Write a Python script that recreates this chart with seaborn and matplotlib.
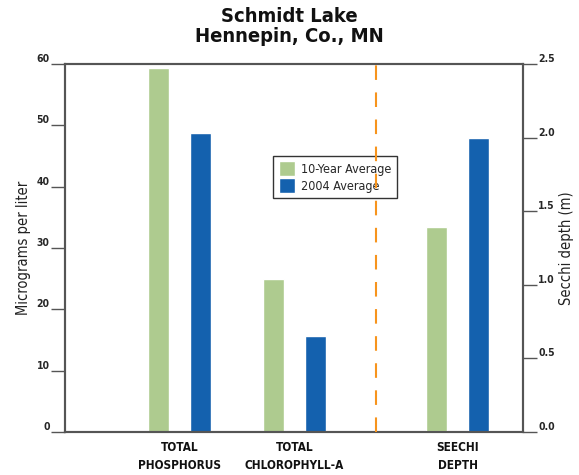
import pandas as pd
import numpy as np
import matplotlib
matplotlib.use("Agg")
import matplotlib.pyplot as plt
import seaborn as sns

# values
categories = ["TOTAL\nPHOSPHORUS", "TOTAL\nCHLOROPHYLL-A", "SEECHI\nDEPTH"]
series = ["10-Year Average", "2004 Average"]
ten_year = [59.3, 24.9, 1.39]      # ug/L, ug/L, m
year_2004 = [48.7, 15.7, 2.00]
left_ticks = [0, 10, 20, 30, 40, 50, 60]
right_ticks = [0.0, 0.5, 1.0, 1.5, 2.0, 2.5]

# layout (category centres on a numeric axis, secchi pushed right of the divider)
xpos = [0.0, 1.0, 2.42]
divider_x = 1.71

green = "#aecb8f"
blue = "#1461ae"
grey = "#555555"

sns.set_style("white")
plt.rcParams["font.family"] = ["DejaVu Sans"]
plt.rcParams["font.stretch"] = "condensed"

rows = []
for i, cat in enumerate(categories):
    rows.append({"pos": xpos[i], "cat": cat, "series": series[0], "value": ten_year[i]})
    rows.append({"pos": xpos[i], "cat": cat, "series": series[1], "value": year_2004[i]})
df = pd.DataFrame(rows)
left_df = df[df["cat"] != categories[2]]
right_df = df[df["cat"] == categories[2]]

fig = plt.figure(figsize=(5.79, 4.75), dpi=100)
ax = fig.add_axes([65 / 579, 43 / 475, 458 / 579, 368 / 475])
ax2 = ax.twinx()

pal = {series[0]: green, series[1]: blue}
sns.barplot(data=left_df, x="pos", y="value", hue="series", hue_order=series,
            palette=pal, native_scale=True, width=0.73, gap=0.5,
            saturation=1, ax=ax, legend=True)
sns.barplot(data=right_df, x="pos", y="value", hue="series", hue_order=series,
            palette=pal, native_scale=True, width=0.73, gap=0.5,
            saturation=1, ax=ax2, legend=False)

ax.set_xlim(-1.0, 2.99)
ax.set_ylim(0, 60)
ax2.set_ylim(0, 2.5)
ax.set_xticks(xpos)
ax.set_xticklabels(categories, fontsize=8.5, fontweight="bold", linespacing=1.45,
                   color="#111111")
ax.tick_params(axis="x", length=5, width=1, color=grey, pad=1.5)

ax.set_yticks(left_ticks)
ax.set_yticklabels([str(t) for t in left_ticks], fontsize=7.5, fontweight="bold")
ax.tick_params(axis="y", length=10, width=1, color=grey, pad=1)
for lab in ax.get_yticklabels():
    lab.set_verticalalignment("bottom")

ax2.set_yticks(right_ticks)
ax2.set_yticklabels([f"{t:.1f}" for t in right_ticks], fontsize=7.5, fontweight="bold")
ax2.tick_params(axis="y", length=10, width=1, color=grey, pad=1)
for lab in ax2.get_yticklabels():
    lab.set_verticalalignment("bottom")

for a in (ax, ax2):
    for s in a.spines.values():
        s.set_color(grey)
        s.set_linewidth(1.5)
    a.set_xlabel("")

ax.set_ylabel("Micrograms per liter", fontsize=10.5, labelpad=4, color="#222222")
ax2.set_ylabel("Secchi depth (m)", fontsize=10.5, labelpad=3, color="#222222")

ax2.axvline(divider_x, color="#f7941d", linestyle=(0, (7, 6)), linewidth=1.5, zorder=5)

handles, labels = ax.get_legend_handles_labels()
leg = ax.legend(handles, labels, loc="center", bbox_to_anchor=(0.59, 0.693),
                fontsize=9, frameon=True, fancybox=False, framealpha=1,
                facecolor="none", edgecolor="#333333", handlelength=1.3,
                handleheight=1.4, handletextpad=0.5, labelspacing=0.2,
                borderpad=0.45, borderaxespad=0)
leg.get_frame().set_linewidth(1)

fig.suptitle("Schmidt Lake\nHennepin, Co., MN", fontsize=14.5, fontweight="bold",
             y=0.985, linespacing=1.05, color="#111111")

fig.savefig("out.png", dpi=100)
